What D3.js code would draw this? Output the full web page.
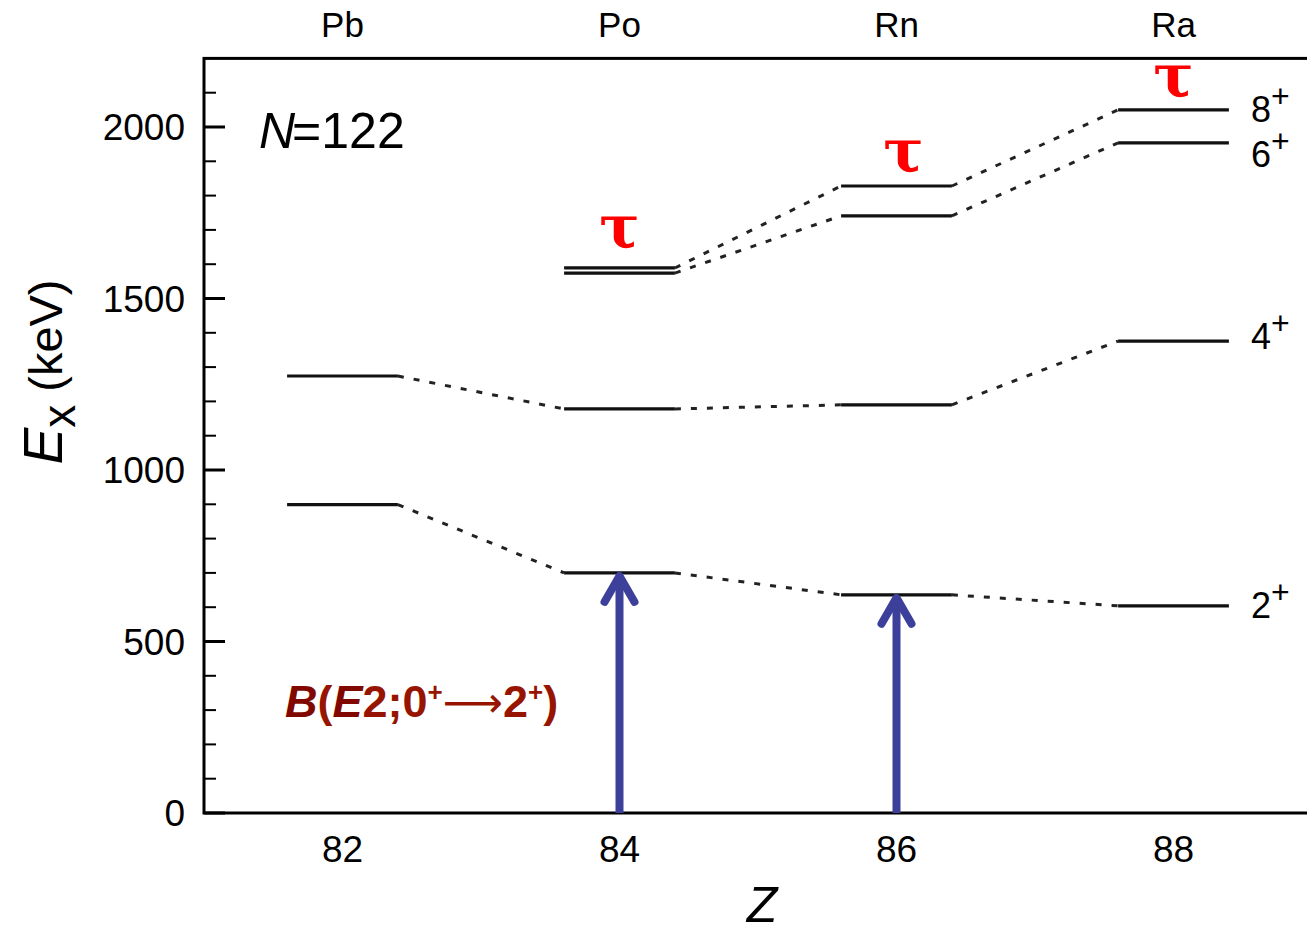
<!DOCTYPE html>
<html>
<head>
<meta charset="utf-8">
<script src="https://cdn.jsdelivr.net/npm/d3@7"></script>
<style>
  body { margin: 0; background: #fff; }
  text { font-family: "Liberation Sans", Arial, Helvetica, sans-serif; }
</style>
</head>
<body>
<div id="chart"></div>
<script>
//chart values
var protonNumbers = [82, 84, 86, 88];
var elementNames = ["Pb", "Po", "Rn", "Ra"];
var levels2 = [899, 700, 636, 604];      // 2+ energies (keV)
var levels4 = [1274, 1178, 1190, 1376];  // 4+
var levels6 = [null, 1574, 1741, 1954];  // 6+
var levels8 = [null, 1589, 1828, 2050];  // 8+
var spinLabels = ["2", "4", "6", "8"];
var arrowZ = [84, 86];                   // B(E2) measured
var tauZ = [84, 86.05, 88];              // lifetimes measured
var tauE = [1647, 1869, 2088];
var yTicks = [0, 500, 1000, 1500, 2000];

var width = 1307, height = 935;

var svg = d3.select("#chart")
  .append("svg")
    .attr("width", width)
    .attr("height", height);

//scales
var x = d3.scaleLinear().domain([81, 89]).range([204, 1312]);
var y = d3.scaleLinear().domain([0, 2200]).range([813, 58.4]);

var half = 0.4; // half width of a level line in Z units

//frame
svg.append("rect")
  .attr("x", x(81)).attr("y", y(2200))
  .attr("width", x(89) - x(81)).attr("height", y(0) - y(2200))
  .attr("fill", "none").attr("stroke", "#000").attr("stroke-width", 3);

//y axis ticks (inside) - minor every 100
var minor = d3.range(0, 2200, 100);
svg.append("g").selectAll("line")
  .data(minor)
  .enter().append("line")
    .attr("x1", x(81))
    .attr("x2", function(d) { return x(81) + (d % 500 === 0 ? 21 : 12); })
    .attr("y1", function(d) { return y(d); })
    .attr("y2", function(d) { return y(d); })
    .attr("stroke", "#000")
    .attr("stroke-width", function(d) { return d % 500 === 0 ? 3 : 2; });

svg.append("g").selectAll("text")
  .data(yTicks)
  .enter().append("text")
    .attr("x", 185)
    .attr("y", function(d) { return y(d); })
    .attr("dy", "0.36em")
    .attr("text-anchor", "end")
    .style("font-size", "37px")
    .text(function(d) { return d; });

//x tick labels and element names
svg.append("g").selectAll("text")
  .data(protonNumbers)
  .enter().append("text")
    .attr("x", function(d) { return x(d); })
    .attr("y", 862)
    .attr("text-anchor", "middle")
    .style("font-size", "37px")
    .text(function(d) { return d; });

svg.append("g").selectAll("text")
  .data(elementNames)
  .enter().append("text")
    .attr("x", function(d, i) { return x(protonNumbers[i]); })
    .attr("y", 37)
    .attr("text-anchor", "middle")
    .style("font-size", "35px")
    .text(function(d) { return d; });

//axis titles
svg.append("text")
  .attr("x", 762).attr("y", 922)
  .attr("text-anchor", "middle")
  .style("font-size", "50px")
  .style("font-style", "italic")
  .text("Z");

var yt = svg.append("text")
  .attr("transform", "translate(62,372) rotate(-90)")
  .attr("text-anchor", "middle")
  .style("font-size", "47px");
yt.append("tspan").style("font-style", "italic").style("font-size", "55px").text("E");
yt.append("tspan").attr("dy", 13).style("font-size", "46px").text("x");
yt.append("tspan").attr("dy", -13).text(" (keV)");

//N=122
var nt = svg.append("text")
  .attr("x", 259).attr("y", 148)
  .style("font-size", "50px");
nt.append("tspan").style("font-style", "italic").text("N");
nt.append("tspan").attr("dx", -3).text("=122");

//level series
var series = [levels2, levels4, levels6, levels8];

//dashed connectors between neighbouring nuclei
series.forEach(function(lev) {
  var pairs = [];
  for (var i = 0; i < lev.length - 1; i++) {
    if (lev[i] !== null && lev[i + 1] !== null) {
      pairs.push({z0: protonNumbers[i], e0: lev[i], z1: protonNumbers[i + 1], e1: lev[i + 1]});
    }
  }
  svg.append("g").selectAll("line")
    .data(pairs)
    .enter().append("line")
      .attr("x1", function(d) { return x(d.z0 + half); })
      .attr("y1", function(d) { return y(d.e0); })
      .attr("x2", function(d) { return x(d.z1 - half); })
      .attr("y2", function(d) { return y(d.e1); })
      .attr("stroke", "#222")
      .attr("stroke-width", 3)
      .attr("stroke-dasharray", "6,10");
});

//level lines
series.forEach(function(lev) {
  var pts = lev.map(function(e, i) { return {z: protonNumbers[i], e: e}; })
    .filter(function(d) { return d.e !== null; });
  svg.append("g").selectAll("line")
    .data(pts)
    .enter().append("line")
      .attr("x1", function(d) { return x(d.z - half); })
      .attr("x2", function(d) { return x(d.z + half); })
      .attr("y1", function(d) { return y(d.e); })
      .attr("y2", function(d) { return y(d.e); })
      .attr("stroke", "#111")
      .attr("stroke-width", 3.2);
});

//spin labels at the right of Ra
var labelOffset = [12, 8, 24, 12];
svg.append("g").selectAll("text")
  .data(spinLabels)
  .enter().append("text")
    .attr("x", x(88 + half) + 22)
    .attr("y", function(d, i) { return y(series[i][3]) + labelOffset[i]; })
    .style("font-size", "36px")
    .each(function(d) {
      var t = d3.select(this);
      t.append("tspan").text(d);
      t.append("tspan").attr("dy", -15).style("font-size", "32px").text("+");
    });

//B(E2) arrows
var arrowColor = "#3d409b";
arrowZ.forEach(function(z) {
  var e = levels2[protonNumbers.indexOf(z)];
  var g = svg.append("g")
    .attr("stroke", arrowColor)
    .attr("stroke-width", 8)
    .attr("fill", "none");
  g.append("line")
    .attr("x1", x(z)).attr("x2", x(z))
    .attr("y1", y(0)).attr("y2", y(e) + 4);
  g.append("path")
    .attr("stroke-linecap", "round")
    .attr("stroke-linejoin", "round")
    .attr("d", "M" + (x(z) - 15) + "," + (y(e) + 29) +
               "L" + x(z) + "," + (y(e) + 3) +
               "L" + (x(z) + 15) + "," + (y(e) + 29));
});

//B(E2;0+ -> 2+) label
var bt = svg.append("text")
  .attr("x", 285).attr("y", 717)
  .attr("fill", "#971500")
  .style("font-size", "45px")
  .style("font-weight", "bold");
bt.append("tspan").style("font-style", "italic").attr("fill", "#800800").text("B");
bt.append("tspan").text("(");
bt.append("tspan").style("font-style", "italic").attr("fill", "#800800").text("E");
bt.append("tspan").text("2;0");
bt.append("tspan").attr("dy", -16).style("font-size", "26px").text("+");
bt.append("tspan").attr("dy", 16).style("font-family", "'DejaVu Sans', sans-serif")
  .style("font-weight", "normal").style("font-size", "42px").text("\u27f6");
bt.append("tspan").text("2");
bt.append("tspan").attr("dy", -16).style("font-size", "26px").text("+");
bt.append("tspan").attr("dy", 16).text(")");

//lifetime markers
svg.append("g").selectAll("text")
  .data(tauZ)
  .enter().append("text")
    .attr("x", function(d) { return x(d); })
    .attr("y", function(d, i) { return y(tauE[i]); })
    .attr("text-anchor", "middle")
    .attr("fill", "#ff0000")
    .style("font-family", "'DejaVu Serif', serif")
    .style("font-weight", "bold")
    .style("font-size", "60px")
    .text("\u03c4");
</script>
</body>
</html>
